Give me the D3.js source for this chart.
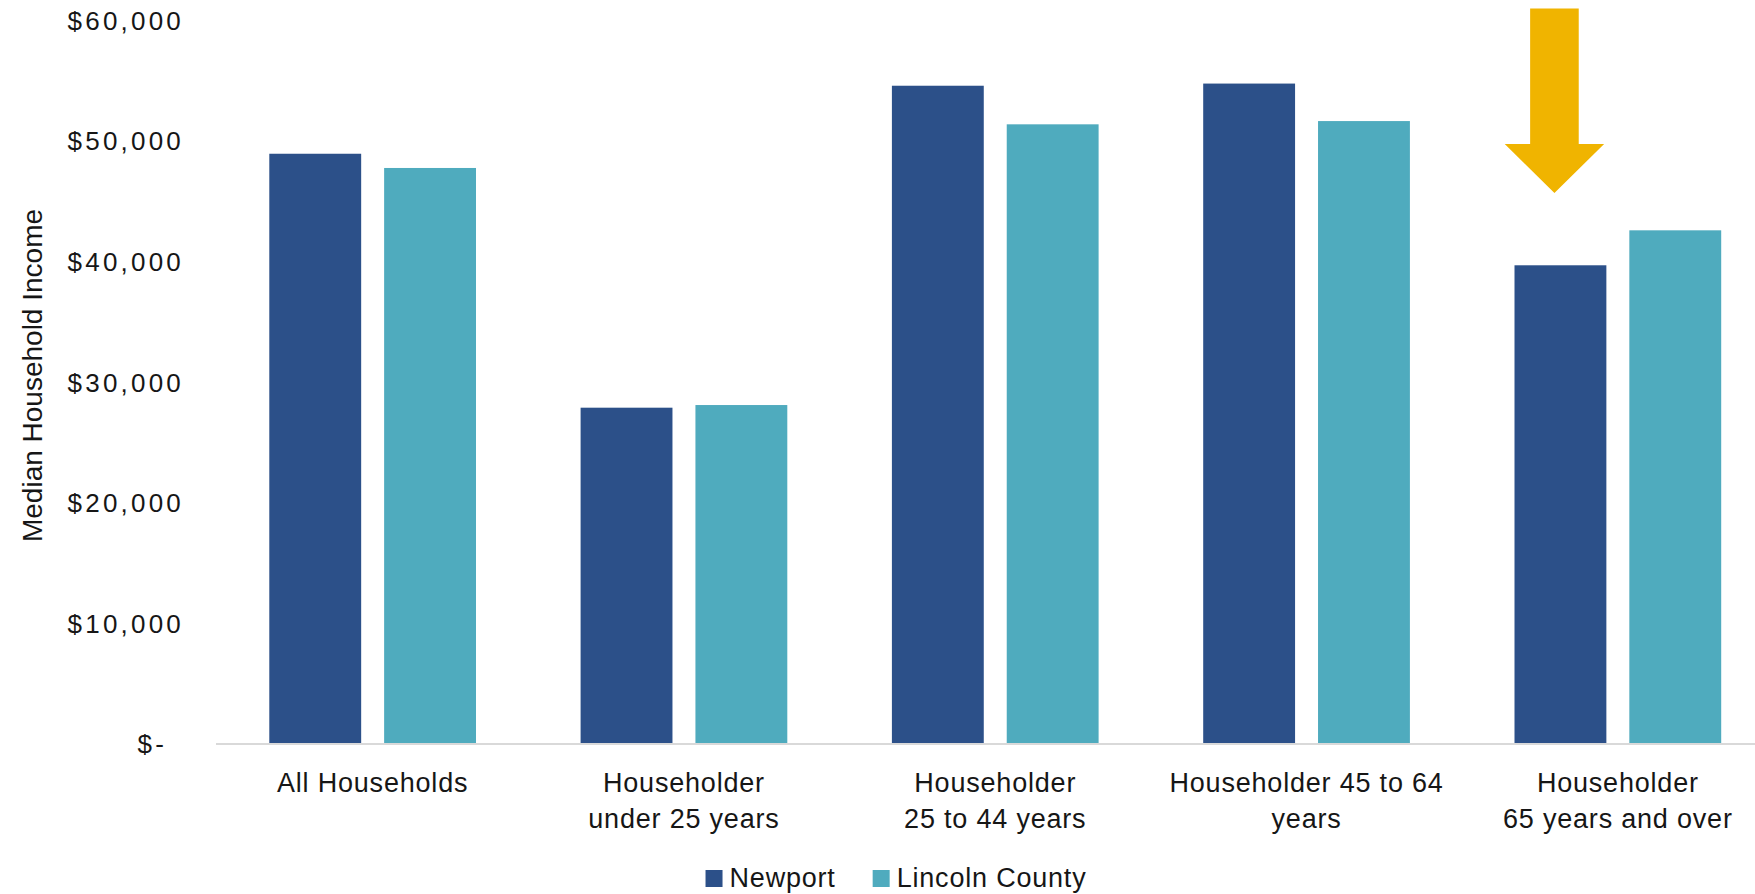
<!DOCTYPE html>
<html>
<head>
<meta charset="utf-8">
<script src="https://cdn.jsdelivr.net/npm/d3@7"></script>
<style>
  html, body { margin: 0; padding: 0; background: #ffffff; }
  svg { display: block; font-family: "Liberation Sans", Arial, sans-serif; }
</style>
</head>
<body>
<svg id="chart" width="1755" height="894"></svg>
<script>
// Median household income by age of householder
const categories = [
  ["All Households"],
  ["Householder", "under 25 years"],
  ["Householder", "25 to 44 years"],
  ["Householder 45 to 64", "years"],
  ["Householder", "65 years and over"]
];
const seriesNames = ["Newport", "Lincoln County"];
const newport = [48950, 27890, 54590, 54770, 39700];
const lincolnCounty = [47770, 28110, 51390, 51660, 42600];
const yTicks = [0, 10000, 20000, 30000, 40000, 50000, 60000];

// Callout arrow above the 65+ Newport bar (values on the income axis)
const arrowTopValue = 61000;
const arrowHeadValue = 49750;
const arrowTipValue = 45700;

const colors = { "Newport": "#2c5089", "Lincoln County": "#4fabbe" };
const textColor = "#161616";

const svg = d3.select("#chart");
const keys = categories.map((c, i) => "c" + i);

const x0 = d3.scaleBand()
  .domain(keys)
  .range([217, 217 + 5 * 311.3])
  .paddingInner(0.336)
  .paddingOuter(0.168);

const x1 = d3.scaleBand()
  .domain(seriesNames)
  .range([0, x0.bandwidth()])
  .paddingInner(0.2);

const y = d3.scaleLinear().domain([0, 60000]).range([744, 20.5]);

const rows = keys.map((k, i) => ({
  key: k,
  values: [
    { name: "Newport", value: newport[i] },
    { name: "Lincoln County", value: lincolnCounty[i] }
  ]
}));

// Bars
const groups = svg.append("g").selectAll("g")
  .data(rows)
  .join("g")
  .attr("transform", d => `translate(${x0(d.key)},0)`);

groups.selectAll("rect")
  .data(d => d.values)
  .join("rect")
  .attr("x", d => x1(d.name))
  .attr("y", d => y(d.value))
  .attr("width", x1.bandwidth())
  .attr("height", d => y(0) - y(d.value))
  .attr("fill", d => colors[d.name]);

// Baseline
svg.append("line")
  .attr("x1", 216).attr("x2", 1755)
  .attr("y1", y(0)).attr("y2", y(0))
  .attr("stroke", "#d9d9d9")
  .attr("stroke-width", 2);

// Y axis labels
const fmt = d3.format(",");
const yAxis = d3.axisLeft(y)
  .tickValues(yTicks)
  .tickSize(0)
  .tickPadding(36)
  .tickFormat(d => d === 0 ? "$-" : "$" + fmt(d));

const yg = svg.append("g")
  .attr("transform", "translate(216,0)")
  .call(yAxis);
yg.select(".domain").remove();
yg.selectAll("text")
  .attr("font-family", "'Liberation Sans', Arial, sans-serif")
  .attr("font-size", 26)
  .attr("letter-spacing", "3.2px")
  .attr("fill", textColor)
  .attr("dy", "0.34em")
  .attr("x", d => d === 0 ? -49 : -32);

// Y axis title
svg.append("text")
  .attr("transform", `translate(42,${(208 + 543) / 2}) rotate(-90)`)
  .attr("text-anchor", "middle")
  .attr("font-size", 28)
  .attr("fill", textColor)
  .text("Median Household Income");

// X axis category labels
const xg = svg.append("g");
categories.forEach((lines, i) => {
  const cx = x0(keys[i]) + x0.bandwidth() / 2;
  const t = xg.append("text")
    .attr("text-anchor", "middle")
    .attr("font-size", 27)
    .attr("letter-spacing", "0.8px")
    .attr("fill", textColor);
  lines.forEach((ln, j) => {
    t.append("tspan")
      .attr("x", cx)
      .attr("y", 792 + j * 36)
      .text(ln);
  });
});

// Callout arrow
const newportX = x0(keys[4]) + x1("Newport") + x1.bandwidth() / 2 - 6;
const shaftHalf = 24.3, headHalf = 49.7;
const arrowPts = [
  [newportX - shaftHalf, y(arrowTopValue)],
  [newportX + shaftHalf, y(arrowTopValue)],
  [newportX + shaftHalf, y(arrowHeadValue)],
  [newportX + headHalf, y(arrowHeadValue)],
  [newportX, y(arrowTipValue)],
  [newportX - headHalf, y(arrowHeadValue)],
  [newportX - shaftHalf, y(arrowHeadValue)]
];
svg.append("path")
  .attr("d", d3.line()(arrowPts) + "Z")
  .attr("fill", "#f0b400");

// Legend
const legend = svg.append("g");
const swatch = 17, textGap = 7, itemGap = 37, legendCenter = 896, legendBase = 887;
let cursor = 0;
seriesNames.forEach(name => {
  const g = legend.append("g");
  g.append("rect")
    .attr("width", swatch).attr("height", swatch)
    .attr("y", legendBase - swatch)
    .attr("fill", colors[name]);
  const t = g.append("text")
    .attr("x", swatch + textGap)
    .attr("y", legendBase)
    .attr("font-size", 27)
    .attr("letter-spacing", "0.8px")
    .attr("fill", textColor)
    .text(name);
  const w = swatch + textGap + t.node().getComputedTextLength();
  g.attr("transform", `translate(${cursor},0)`);
  cursor += w + itemGap;
});
const totalW = cursor - itemGap;
legend.attr("transform", `translate(${legendCenter - totalW / 2},0)`);
</script>
</body>
</html>
